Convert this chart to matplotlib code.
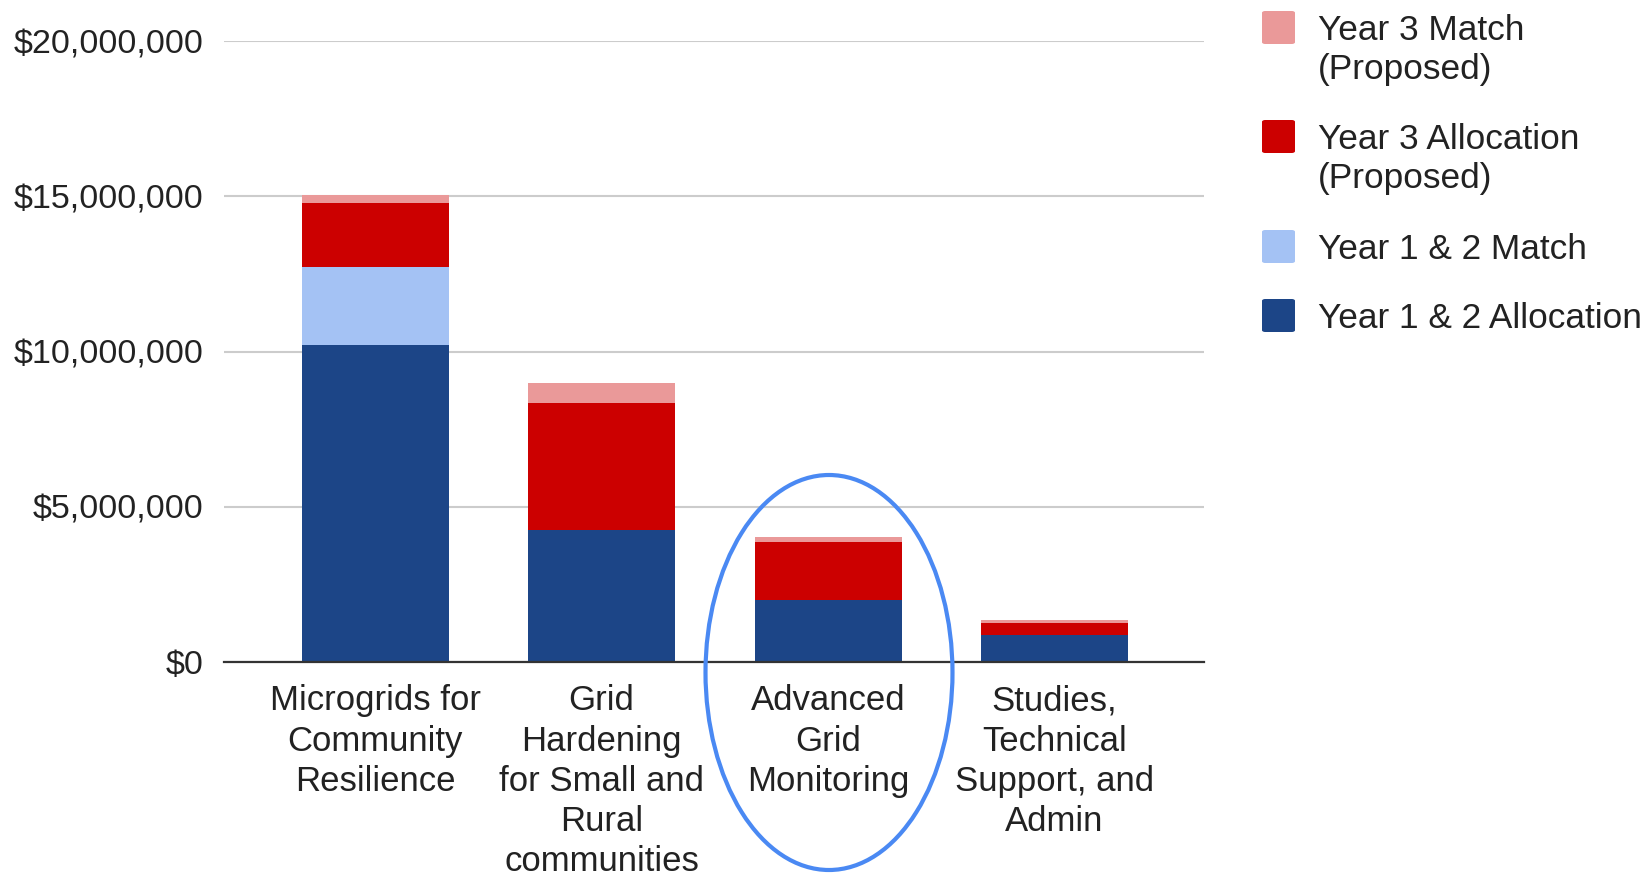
import matplotlib
matplotlib.use('Agg')
import matplotlib.pyplot as plt
from matplotlib.patches import Ellipse, FancyBboxPatch

# data ($)
categories = ['Microgrids for\nCommunity\nResilience',
              'Grid\nHardening\nfor Small and\nRural\ncommunities',
              'Advanced\nGrid\nMonitoring',
              'Studies,\nTechnical\nSupport, and\nAdmin']
y12_alloc = [10_210_000, 4_240_000, 1_990_000, 870_000]
y12_match = [2_520_000, 0, 0, 0]
y3_alloc = [2_050_000, 4_110_000, 1_870_000, 380_000]
y3_match = [270_000, 640_000, 180_000, 90_000]

series_names = ['Year 1 & 2 Allocation', 'Year 1 & 2 Match',
                'Year 3 Allocation\n(Proposed)', 'Year 3 Match\n(Proposed)']
colors = ['#1c4587', '#a4c2f4', '#cc0000', '#ea9999']

W, H = 1649, 877
plt.rcParams['font.family'] = ['Liberation Sans', 'DejaVu Sans']
TEXT = '#222222'


def fx(px):
    return px / W


def fy(py):
    return 1 - py / H


fig = plt.figure(figsize=(W / 100, H / 100), dpi=100)
ax = fig.add_axes([fx(224), fy(662), fx(1204 - 224), (662 - 41) / H])

x = range(len(categories))
bottom = [0] * len(categories)
for vals, col in zip([y12_alloc, y12_match, y3_alloc, y3_match], colors):
    ax.bar(x, vals, bottom=bottom, width=0.649, color=col, linewidth=0, zorder=2)
    bottom = [b + v for b, v in zip(bottom, vals)]

ax.set_ylim(0, 20_000_000)
ax.set_xlim(-0.667, 3.66)
ax.set_yticks([0, 5_000_000, 10_000_000, 15_000_000, 20_000_000])
ax.yaxis.set_major_formatter('${x:,.0f}')
ax.set_xticks(list(x))
ax.set_xticklabels(categories, fontsize=25, color=TEXT, linespacing=1.28)
ax.tick_params(axis='y', length=0, pad=15, labelsize=24.6, labelcolor=TEXT)
ax.tick_params(axis='x', length=0, pad=16)

ax.grid(axis='y', color='#cccccc', linewidth=1.5, zorder=0)
ax.set_axisbelow(True)
for s in ['left', 'right', 'top']:
    ax.spines[s].set_visible(False)
ax.spines['bottom'].set_color('#333333')
ax.spines['bottom'].set_linewidth(1.6)
ax.spines['bottom'].set_zorder(3)

# legend drawn by hand: squares aligned to first text line
legend_order = [3, 2, 1, 0]
square_tops = [11, 120, 230, 299]
for idx, top in zip(legend_order, square_tops):
    fig.add_artist(FancyBboxPatch((fx(1262), fy(top + 33)), fx(33), 33 / H,
                                  boxstyle='round,pad=0,rounding_size=0.002',
                                  transform=fig.transFigure,
                                  facecolor=colors[idx], edgecolor='none'))
    for i, line in enumerate(series_names[idx].split('\n')):
        fig.text(fx(1318), fy(top + 29 + i * 39), line, fontsize=25.4,
                 color=TEXT, ha='left', va='baseline')

# highlight ellipse around Advanced Grid Monitoring
fig.add_artist(Ellipse((fx(829), fy(672.5)), fx(247), 395 / H,
                       transform=fig.transFigure, fill=False,
                       edgecolor='#4a89f3', linewidth=3))

fig.savefig('out.png', dpi=100, facecolor='white')
